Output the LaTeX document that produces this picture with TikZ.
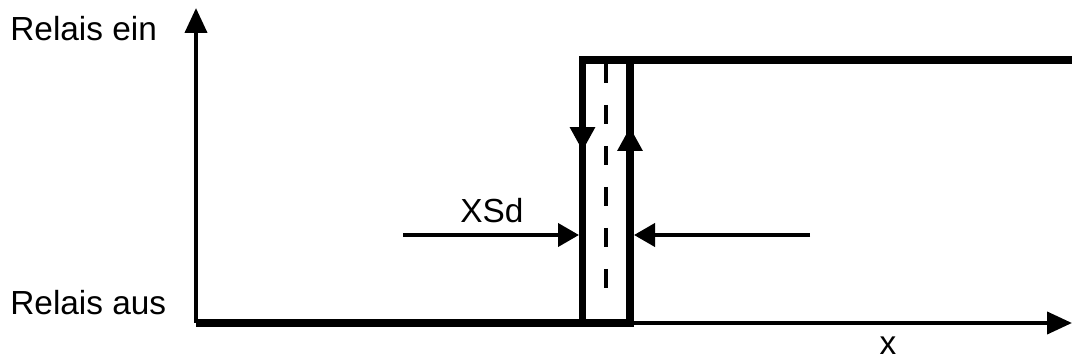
\documentclass[tikz,border=0pt]{standalone}
\usepackage{fontspec}
\setmainfont{Liberation Sans}
\usepackage{tikz}
\usetikzlibrary{arrows.meta}

\begin{document}
\begin{tikzpicture}[
    x=0.02cm, y=-0.02cm,
    every node/.style={inner sep=0pt, font=\fontsize{19}{22}\selectfont},
    axis/.style={line width=2.3pt, -{Triangle[length=0.5cm, width=0.44cm]}},
    curve/.style={line width=4pt, line join=miter},
    flow/.style={line width=4pt, -{Triangle[length=0.48cm, width=0.48cm]}},
    span/.style={line width=2.3pt, -{Triangle[length=0.42cm, width=0.46cm]}},
    middle/.style={line width=2.8pt, dash pattern=on 0.38cm off 0.44cm}
]
\useasboundingbox (0,0) rectangle (1072,361);

% axes
\coordinate (O) at (196,323);
\coordinate (ytop) at (196,8);
\coordinate (xend) at (1072,323);
\draw[axis] (O) -- (ytop);
\draw[axis] (O) -- (xend);

% hysteresis loop
\coordinate (offlow) at (582.5,323);
\coordinate (offhigh) at (582.5,60);
\coordinate (onlow) at (630,323);
\coordinate (onhigh) at (630,60);
\coordinate (right) at (1072,60);
\draw[curve] (O) -- (onlow) -- (onhigh) -- (right);
\draw[curve] (offlow) -- (offhigh) -- (onhigh);
\draw[flow] (offhigh) -- (582.5,151);
\draw[flow] (onlow) -- (630,127);
\draw[middle] (606,64) -- (606,300);

% width of the band
\coordinate (sl) at (403,235);
\coordinate (sr) at (810,235);
\draw[span] (sl) -- (579,235);
\draw[span] (sr) -- (634,235);

\node[anchor=base west] (ein) at (10,41) {Relais ein};
\node[anchor=base west] (aus) at (10,315) {Relais aus};
\node[anchor=base] (xsd) at (492,223) {XSd};
\node[anchor=base] (xlab) at (888,355) {x};
\end{tikzpicture}
\end{document}
